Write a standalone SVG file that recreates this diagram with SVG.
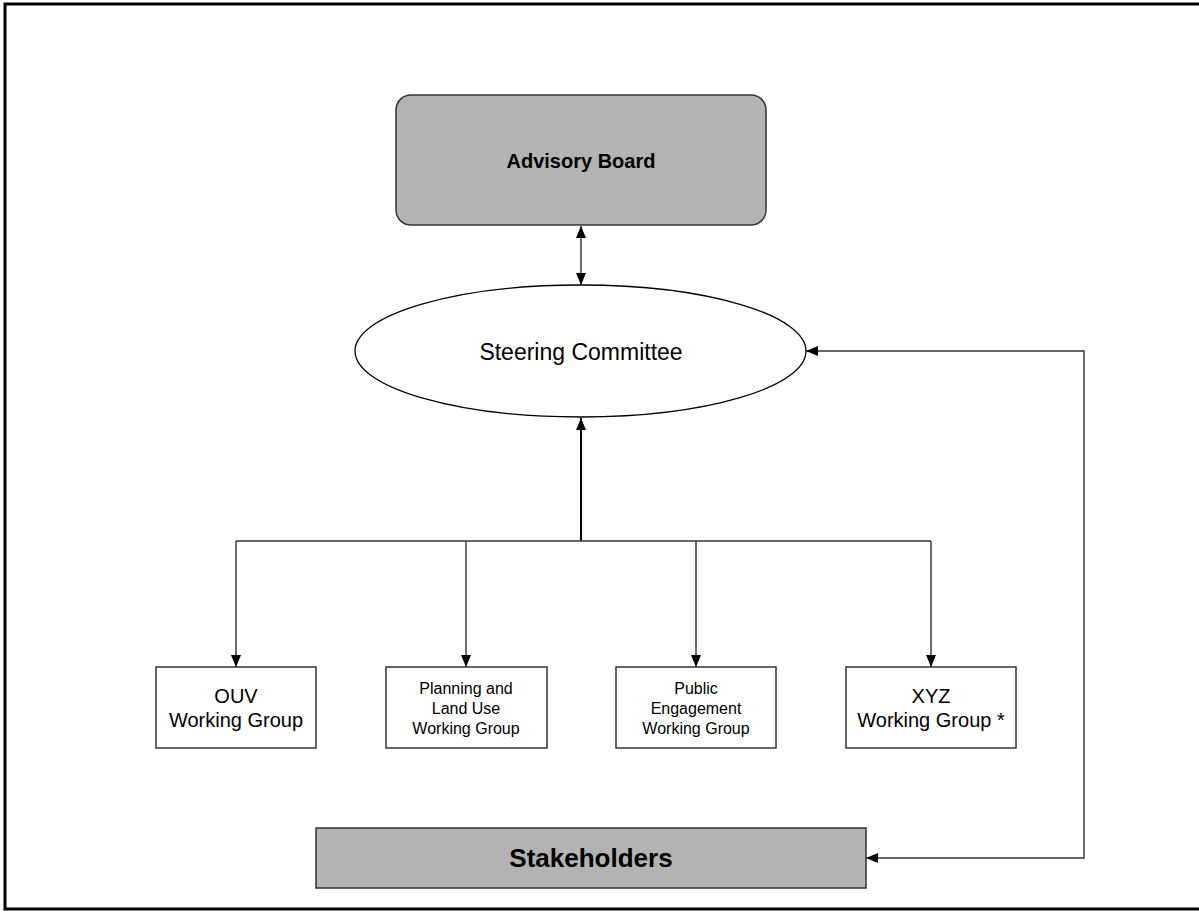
<svg xmlns="http://www.w3.org/2000/svg" width="1199" height="911" viewBox="0 0 1199 911">
<style>
text{font-family:"Liberation Sans",Arial,sans-serif;fill:#000;text-anchor:middle}
.box{fill:#fff;stroke:#333;stroke-width:1.5}
.grey{fill:#b3b3b3;stroke:#333;stroke-width:1.5}
.ln{fill:none;stroke:#333;stroke-width:1.4}
.thick{fill:none;stroke:#000;stroke-width:2}
</style>
<defs>
<marker id="ah" viewBox="0 0 12 10" refX="12" refY="5" markerWidth="12" markerHeight="10" markerUnits="userSpaceOnUse" orient="auto-start-reverse">
<path d="M0,0 L12,5 L0,10 Z" fill="#000"/>
</marker>
</defs>
<rect x="5" y="4" width="1300" height="905" fill="#fff" stroke="#000" stroke-width="3"/>
<g id="advisory-board">
<rect class="grey" x="396" y="95" width="370" height="130" rx="15" ry="15"/>
<text x="581" y="168" font-size="20" font-weight="bold">Advisory Board</text>
</g>
<g id="steering-committee">
<ellipse cx="580.5" cy="351" rx="225.5" ry="66" fill="#fff" stroke="#000" stroke-width="1.3"/>
<text x="581" y="360" font-size="23">Steering Committee</text>
</g>
<g id="ouv">
<rect class="box" x="156" y="667" width="160" height="81"/>
<text x="236" y="703" font-size="20">OUV</text>
<text x="236" y="727" font-size="20">Working Group</text>
</g>
<g id="planning">
<rect class="box" x="386" y="667" width="161" height="81"/>
<text x="466" y="694" font-size="16">Planning and</text>
<text x="466" y="714" font-size="16">Land Use</text>
<text x="466" y="734" font-size="16">Working Group</text>
</g>
<g id="public">
<rect class="box" x="616" y="667" width="160" height="81"/>
<text x="696" y="694" font-size="16">Public</text>
<text x="696" y="714" font-size="16">Engagement</text>
<text x="696" y="734" font-size="16">Working Group</text>
</g>
<g id="xyz">
<rect class="box" x="846" y="667" width="170" height="81"/>
<text x="931" y="703" font-size="20">XYZ</text>
<text x="931" y="727" font-size="20">Working Group *</text>
</g>
<g id="stakeholders">
<rect class="grey" x="316" y="828" width="550" height="60"/>
<text x="591" y="867" font-size="26" font-weight="bold">Stakeholders</text>
</g>
<g id="connectors">
<line class="ln" x1="581" y1="226" x2="581" y2="285" marker-start="url(#ah)" marker-end="url(#ah)"/>
<line class="thick" x1="581" y1="541" x2="581" y2="418" marker-end="url(#ah)"/>
<polyline class="ln" points="236,541 931,541"/>
<line class="ln" x1="236" y1="541" x2="236" y2="667" marker-end="url(#ah)"/>
<line class="ln" x1="466" y1="541" x2="466" y2="667" marker-end="url(#ah)"/>
<line class="ln" x1="696" y1="541" x2="696" y2="667" marker-end="url(#ah)"/>
<line class="ln" x1="931" y1="541" x2="931" y2="667" marker-end="url(#ah)"/>
<polyline class="ln" points="866,858 1084,858 1084,351 806,351" marker-start="url(#ah)" marker-end="url(#ah)"/>
</g>
</svg>
